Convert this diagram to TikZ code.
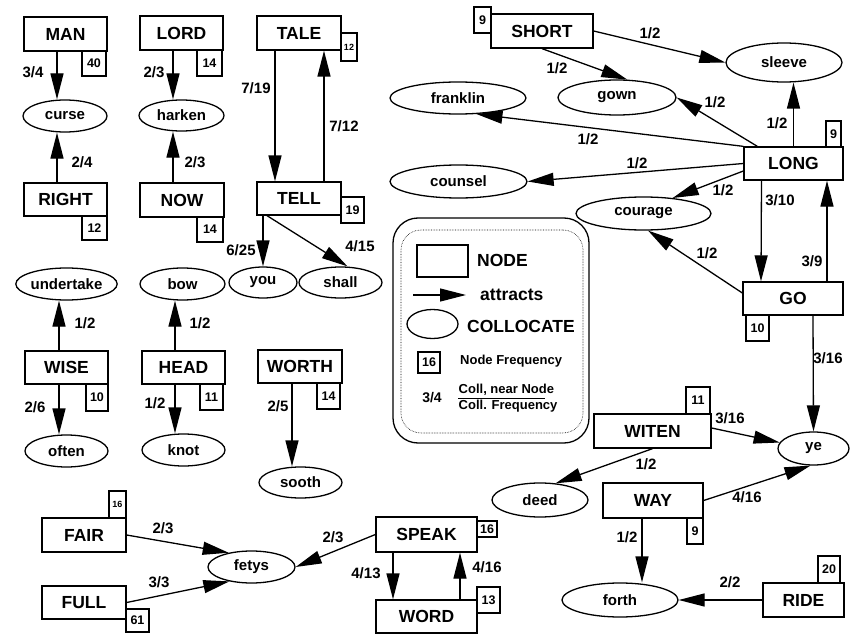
\documentclass[tikz,border=0pt]{standalone}
\usepackage{fontspec}
\setmainfont{Liberation Sans}
\usetikzlibrary{shapes.geometric,arrows.meta,calc}
\begin{document}
\begin{tikzpicture}[x=1pt,y=-1pt,
  nbox/.style={draw,line width=1.3pt,rectangle,inner sep=0pt,minimum width=83pt,minimum height=34pt,font=\fontsize{17.5}{17.5}\selectfont\bfseries},
  fqbox/.style={draw,line width=1.3pt,rectangle,inner sep=0pt,minimum width=23pt,minimum height=26pt,font=\fontsize{12.5}{12.5}\selectfont\bfseries},
  fqsmall/.style={fqbox,font=\fontsize{9}{9}\selectfont\bfseries},
  coll/.style={draw,line width=1.3pt,ellipse,inner sep=0pt,minimum width=84pt,minimum height=32pt,font=\fontsize{15}{15}\selectfont\bfseries},
  lab/.style={inner sep=0pt,font=\fontsize{15}{15}\selectfont\bfseries},
  arr/.style={line width=1.3pt,-{Triangle[length=26pt,width=13pt]}},
  legtext/.style={inner sep=0pt,anchor=west,font=\fontsize{17.5}{17.5}\selectfont\bfseries},
  legsmall/.style={inner sep=0pt,font=\fontsize{13}{13}\selectfont\bfseries},
]
\useasboundingbox (0,0) rectangle (855,634);

% ---- main nodes ----
\node[nbox] (MAN) at (65.5,34) {MAN};
\node[nbox] (LORD) at (181.5,33) {LORD};
\node[nbox,minimum width=84pt] (TALE) at (299,33) {TALE};
\node[nbox,minimum height=33pt] (RIGHT) at (65.5,199.5) {RIGHT};
\node[nbox,minimum width=84pt] (NOW) at (182,200) {NOW};
\node[nbox,minimum width=84pt,minimum height=33pt] (TELL) at (299,198.5) {TELL};
\node[nbox,minimum height=33pt] (WISE) at (66.5,367.5) {WISE};
\node[nbox,minimum height=33pt] (HEAD) at (183.5,367.5) {HEAD};
\node[nbox,minimum width=84pt,minimum height=33pt] (WORTH) at (300,366.5) {WORTH};
\node[nbox,minimum width=84pt] (FAIR) at (84,535) {FAIR};
\node[nbox,minimum width=84pt,minimum height=33pt] (FULL) at (84,602.5) {FULL};
\node[nbox,minimum width=101pt,minimum height=35pt] (SPEAK) at (426.5,534.5) {SPEAK};
\node[nbox,minimum width=101pt,minimum height=33pt] (WORD) at (426.5,616.5) {WORD};
\node[nbox,minimum width=102pt] (SHORT) at (542,31) {SHORT};
\node[nbox,minimum width=99pt,minimum height=33pt] (LONG) at (793.5,163.5) {LONG};
\node[nbox,minimum width=100pt,minimum height=33pt] (GO) at (793,298.5) {GO};
\node[nbox,minimum width=117pt] (WITEN) at (652.5,431) {WITEN};
\node[nbox,minimum width=100pt,minimum height=35pt] (WAY) at (653,500.5) {WAY};
\node[nbox,minimum width=81pt] (RIDE) at (803.5,600) {RIDE};

% ---- frequency boxes ----
\node[fqbox,minimum width=24pt,minimum height=25pt] (fMAN) at (94,63.5) {40};
\node[fqbox,minimum width=25pt] (fLORD) at (209.5,63) {14};
\node[fqsmall,minimum width=16pt,minimum height=28pt] (fTALE) at (349,47) {12};
\node[fqbox,minimum width=25pt,minimum height=24pt] (fRIGHT) at (94.5,228) {12};
\node[fqbox,minimum width=26pt,minimum height=25pt] (fNOW) at (210,229.5) {14};
\node[fqbox] (fTELL) at (352.5,210) {19};
\node[fqbox,minimum width=22pt,minimum height=27pt] (fWISE) at (97,397.5) {10};
\node[fqbox] (fHEAD) at (211.5,397) {11};
\node[fqbox] (fWORTH) at (328.5,396) {14};
\node[fqsmall,minimum width=17pt,minimum height=27pt] (fFAIR) at (117.5,504.5) {16};
\node[fqbox,minimum height=23pt] (fFULL) at (137.5,620.5) {61};
\node[fqbox,minimum width=20pt,minimum height=16pt] (fSPEAK) at (487,529) {16};
\node[fqbox] (fWORD) at (488.5,600) {13};
\node[fqbox,minimum width=17pt] (fSHORT) at (482.5,20) {9};
\node[fqbox,minimum width=15pt] (fLONG) at (833.5,134) {9};
\node[fqbox] (fGO) at (757.5,328) {10};
\node[fqbox,minimum width=24pt,minimum height=27pt] (fWITEN) at (698,400.5) {11};
\node[fqbox,minimum width=16pt] (fWAY) at (695,531) {9};
\node[fqbox,minimum width=22pt,minimum height=27pt] (fRIDE) at (829,569.5) {20};

% ---- collocates ----
\node[coll] (curse) at (65,116) {curse};
\node[coll,minimum width=85pt,minimum height=31pt] (harken) at (181.5,115.5) {harken};
\node[coll,minimum width=83pt] (undertake) at (66.5,284) {undertake};
\node[coll,minimum width=83pt] (often) at (66.5,451) {often};
\node[coll,minimum width=85pt] (bow) at (182.5,284) {bow};
\node[coll,minimum width=83pt] (knot) at (183.5,450) {knot};
\node[coll,minimum width=83pt,minimum height=31pt] (sooth) at (300.5,482.5) {sooth};
\node[coll,minimum width=68pt,minimum height=31pt] (you) at (263,282.5) {you};
\node[coll,minimum width=83pt,minimum height=31pt] (shall) at (340.5,282.5) {shall};
\node[coll,minimum width=87pt] (fetys) at (251.5,567) {fetys};
\node[coll,minimum width=116pt,minimum height=39pt] (sleeve) at (784,62.5) {sleeve};
\node[coll,minimum width=118pt,minimum height=35pt] (gown) at (617,97.5) {gown};
\node[coll,minimum width=136pt] (franklin) at (458,98) {franklin};
\node[coll,minimum width=137pt,minimum height=33pt] (counsel) at (458.5,181.5) {counsel};
\node[coll,minimum width=135pt,minimum height=33pt] (courage) at (643.5,213.5) {courage};
\node[coll,minimum width=71pt,minimum height=33pt] (ye) at (813.5,448.5) {ye};
\node[coll,minimum width=96pt,minimum height=34pt] (deed) at (540,500) {deed};
\node[coll,minimum width=116pt,minimum height=34pt] (forth) at (620,600) {forth};

% ---- connectors ----
\draw[arr] ([xshift=-8.5pt]MAN.south) -- ([xshift=-8pt]curse.north);
\draw[arr] ([xshift=-8.5pt]RIGHT.north) -- ([xshift=-8pt]curse.south);
\draw[arr] ([xshift=-8.5pt]LORD.south) -- ([xshift=-8.5pt]harken.north);
\draw[arr] ([xshift=-9pt]NOW.north) -- ([xshift=-8.5pt]harken.south);
\draw[arr] ([xshift=-24pt]TALE.south) -- ([xshift=-24pt]TELL.north);
\draw[arr] ([xshift=25pt]TELL.north) -- ([xshift=25pt]TALE.south);
\draw[arr] ([xshift=-36pt]TELL.south) -- (you.north);
\draw[arr] ([xshift=-32pt]TELL.south) -- ([xshift=7pt]shall.north);
\draw[arr] ([xshift=-7.5pt]WISE.north) -- ([xshift=-7.5pt]undertake.south);
\draw[arr] ([xshift=-7.5pt]WISE.south) -- ([xshift=-7.5pt]often.north);
\draw[arr] ([xshift=-8.5pt]HEAD.north) -- ([xshift=-7.5pt]bow.south);
\draw[arr] ([xshift=-8.5pt]HEAD.south) -- ([xshift=-8.5pt]knot.north);
\draw[arr] ([xshift=-8pt]WORTH.south) -- ([xshift=-8.5pt]sooth.north);
\draw[arr] (FAIR.east) -- (fetys.148);
\draw[arr] (FULL.east) -- (fetys.213);
\draw[arr] (SPEAK.west) -- (fetys.east);
\draw[arr] ([xshift=-33.5pt]SPEAK.south) -- ([xshift=-33.5pt]WORD.north);
\draw[arr] ([xshift=33.5pt]WORD.north) -- ([xshift=33.5pt]SPEAK.south);
\draw[arr] (SHORT.east) -- (sleeve.west);
\draw[arr] (SHORT.south) -- (gown.60);
\draw[arr] (LONG.north) -- ([xshift=9.5pt]sleeve.south);
\draw[arr] ([xshift=14pt]LONG.north west) -- (gown.east);
\draw[arr] (LONG.north west) -- (franklin.-41);
\draw[arr] (LONG.west) -- (counsel.east);
\draw[arr] ($(LONG.west)+(0,7.5)$) -- (courage.28);
\draw[arr] ([xshift=-32pt]LONG.south) -- ([xshift=-32pt]GO.north);
\draw[arr] ([xshift=34pt]GO.north) -- ([xshift=33.5pt]LONG.south);
\draw[arr] ($(GO.west)+(0,-5.5)$) -- (courage.-75);
\draw[arr] ([xshift=20pt]GO.south) -- (ye.north);
\draw[arr] ($(WITEN.east)+(0,-3)$) -- (ye.170);
\draw[arr] (WITEN.south) -- (deed.47);
\draw[arr] (WAY.east) -- (ye.-100);
\draw[arr] ([xshift=-11pt]WAY.south) -- ([xshift=22pt]forth.north);
\draw[arr] (RIDE.west) -- (forth.east);

% ---- connector labels ----
\node[lab] (l1) at (33,72) {3/4};
\node[lab] (l2) at (82,162) {2/4};
\node[lab] (l3) at (154,72) {2/3};
\node[lab] (l4) at (195,162) {2/3};
\node[lab] (l5) at (256,88) {7/19};
\node[lab] (l6) at (344,126) {7/12};
\node[lab] (l7) at (241,250) {6/25};
\node[lab] (l8) at (360,246) {4/15};
\node[lab] (l9) at (85,323) {1/2};
\node[lab] (l10) at (35,407) {2/6};
\node[lab] (l11) at (200,323) {1/2};
\node[lab] (l12) at (155,403) {1/2};
\node[lab] (l13) at (278,406) {2/5};
\node[lab] (l14) at (163,528) {2/3};
\node[lab] (l15) at (159,582) {3/3};
\node[lab] (l16) at (333,537) {2/3};
\node[lab] (l17) at (366,573) {4/13};
\node[lab] (l18) at (487,567) {4/16};
\node[lab] (l19) at (650,33) {1/2};
\node[lab] (l20) at (557,68) {1/2};
\node[lab] (l21) at (777,123) {1/2};
\node[lab] (l22) at (715,102) {1/2};
\node[lab] (l23) at (588,139) {1/2};
\node[lab] (l24) at (637,163) {1/2};
\node[lab] (l25) at (723,190) {1/2};
\node[lab] (l26) at (780,200) {3/10};
\node[lab] (l27) at (812,261) {3/9};
\node[lab] (l28) at (707,253) {1/2};
\node[lab] (l29) at (828,358) {3/16};
\node[lab] (l30) at (730,418) {3/16};
\node[lab] (l31) at (646,464) {1/2};
\node[lab] (l32) at (747,497) {4/16};
\node[lab] (l33) at (627,537) {1/2};
\node[lab] (l34) at (730,582) {2/2};

% ---- legend ----
\node[draw,line width=1.3pt,rounded corners=25pt,minimum width=196pt,minimum height=225pt] (legout) at (491,330.5) {};
\node[draw,line width=0.6pt,densely dotted,rounded corners=20pt,minimum width=182pt,minimum height=203pt] (legin) at (492,331.5) {};
\node[draw,line width=1.3pt,inner sep=0pt,minimum width=51pt,minimum height=32pt] (legnode) at (442.5,261) {};
\node[legtext] (legnodet) at (477,260) {NODE};
\coordinate (legA) at (413,295);
\coordinate (legB) at (466,295);
\draw[arr] (legA) -- (legB);
\node[legtext] (legattr) at (480,295) {attracts};
\node[draw,line width=1.3pt,ellipse,inner sep=0pt,minimum width=51pt,minimum height=29pt] (legell) at (432.5,324) {};
\node[legtext] (legcoll) at (467,326.5) {COLLOCATE};
\node[fqbox,minimum width=22pt,minimum height=21pt] (legfq) at (429,362.5) {16};
\node[legsmall,anchor=west] (legfqt) at (460,361) {Node Frequency};
\node[inner sep=0pt,font=\fontsize{14}{14}\selectfont\bfseries] (legfrac) at (432,398) {3/4};
\node[legsmall,anchor=base west] (legnum) at (458.5,393) {Coll, near Node};
\node[legsmall,anchor=base west] (legden) at (458.5,409.5) {Coll. Frequency};
\coordinate (legL1) at (458,398);
\coordinate (legL2) at (545,398);
\draw[line width=0.8pt] (legL1) -- (legL2);
\end{tikzpicture}
\end{document}
